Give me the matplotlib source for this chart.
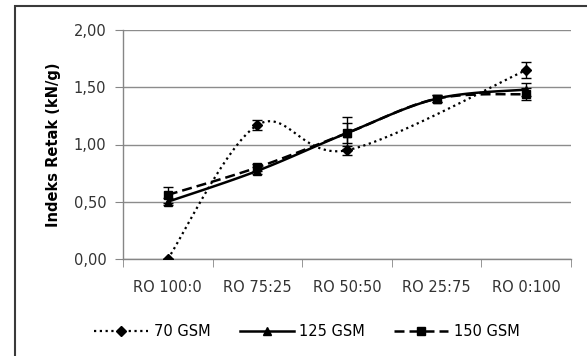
import matplotlib
matplotlib.use("Agg")
import matplotlib.pyplot as plt
import numpy as np
from matplotlib.patches import Rectangle

# data
categories = ["RO 100:0", "RO 75:25", "RO 50:50", "RO 25:75", "RO 0:100"]
gsm70 = [0.00, 1.17, 0.95, None, 1.65]
gsm70_err = [0.0, 0.04, 0.04, 0.0, 0.07]
gsm125 = [0.50, 0.77, 1.10, 1.40, 1.48]
gsm125_err = [0.03, 0.03, 0.14, 0.03, 0.06]
gsm150 = [0.56, 0.80, 1.10, 1.40, 1.44]
gsm150_err = [0.07, 0.03, 0.09, 0.03, 0.05]
yticks = [0.0, 0.5, 1.0, 1.5, 2.0]


def smooth(xs, ys, n=30):
    # Excel-like smoothed line (Bezier with Catmull-Rom control points)
    xs = np.asarray(xs, float)
    ys = np.asarray(ys, float)
    px, py = [], []
    for i in range(len(xs) - 1):
        i0 = max(i - 1, 0)
        i3 = min(i + 2, len(xs) - 1)
        p0 = np.array([xs[i0], ys[i0]])
        p1 = np.array([xs[i], ys[i]])
        p2 = np.array([xs[i + 1], ys[i + 1]])
        p3 = np.array([xs[i3], ys[i3]])
        c1 = p1 + (p2 - p0) / 6
        c2 = p2 - (p3 - p1) / 6
        t = np.linspace(0, 1, n)[:, None]
        b = ((1 - t) ** 3) * p1 + 3 * ((1 - t) ** 2) * t * c1 + 3 * (1 - t) * t ** 2 * c2 + t ** 3 * p2
        px.extend(b[:, 0])
        py.extend(b[:, 1])
    return px, py


plt.rcParams["font.family"] = ["DejaVu Sans"]
fs = 10.5
fig = plt.figure(figsize=(5.87, 3.56), dpi=100)
fig.patches.append(Rectangle((15 / 587, -0.1), 1.2, 1 - 6 / 356 + 0.1,
                             transform=fig.transFigure, fill=False,
                             edgecolor="#3a3a3a", linewidth=1.5))
ax = fig.add_axes([123 / 587, 1 - 259 / 356, 448 / 587, 229 / 356])

x = np.arange(len(categories))

# 70 GSM (missing point at RO 25:75)
pts70 = [(xi, yi, ei) for xi, yi, ei in zip(x, gsm70, gsm70_err) if yi is not None]
x70 = [p[0] for p in pts70]
y70 = [p[1] for p in pts70]
e70 = [p[2] for p in pts70]
sx, sy = smooth(x70, y70)
ax.plot(sx, sy, color="black", linestyle=(0, (1, 1.6)), linewidth=1.6, zorder=3)
ax.errorbar(x70, y70, yerr=e70, fmt="D", color="black", markersize=5.5,
            capsize=3.5, elinewidth=1, capthick=1, zorder=4)

sx, sy = smooth(x, gsm125)
ax.plot(sx, sy, color="black", linestyle="-", linewidth=1.8, zorder=3)
ax.errorbar(x, gsm125, yerr=gsm125_err, fmt="^", color="black", markersize=6,
            capsize=3.5, elinewidth=1, capthick=1, zorder=4)

sx, sy = smooth(x, gsm150)
ax.plot(sx, sy, color="black", linestyle=(0, (4, 2)), linewidth=1.8, zorder=3)
ax.errorbar(x, gsm150, yerr=gsm150_err, fmt="s", color="black", markersize=6,
            capsize=3.5, elinewidth=1, capthick=1, zorder=4)

ax.set_xlim(-0.5, len(categories) - 0.5)
ax.set_ylim(0, 2.0)
ax.set_yticks(yticks)
ax.set_yticklabels([f"{v:.2f}".replace(".", ",") for v in yticks])
ax.set_xticks(x)
ax.set_xticklabels(categories)
ax.set_xticks(np.arange(len(categories) + 1) - 0.5, minor=True)
ax.tick_params(axis="x", which="major", length=0, pad=15)
ax.tick_params(axis="x", which="minor", length=6, color="#868686")
ax.tick_params(axis="y", length=6, color="#868686", pad=6)
ax.tick_params(labelsize=fs, labelcolor="#333333")
ax.yaxis.grid(True, color="#8c8c8c", linewidth=1)
ax.set_axisbelow(True)
for s in ["top", "right"]:
    ax.spines[s].set_visible(False)
for s in ["left", "bottom"]:
    ax.spines[s].set_color("#868686")
    ax.spines[s].set_linewidth(1)
ax.set_ylabel("Indeks Retak (kN/g)", fontsize=fs, fontweight="bold", labelpad=9)

# legend
h1 = ax.plot([], [], color="black", linestyle=(0, (1, 1.6)), linewidth=1.6,
             marker="D", markersize=5.5)[0]
h2 = ax.plot([], [], color="black", linestyle="-", linewidth=1.8,
             marker="^", markersize=6)[0]
h3 = ax.plot([], [], color="black", linestyle=(0, (4, 2)), linewidth=1.8,
             marker="s", markersize=6)[0]
fig.legend([h1, h2, h3], ["70 GSM", "125 GSM", "150 GSM"], loc="center",
           bbox_to_anchor=(307 / 587, 1 - 332 / 356), ncol=3, frameon=False,
           fontsize=fs, handlelength=3.7, columnspacing=2.0, handletextpad=0.4)

fig.savefig("out.png", dpi=100)
